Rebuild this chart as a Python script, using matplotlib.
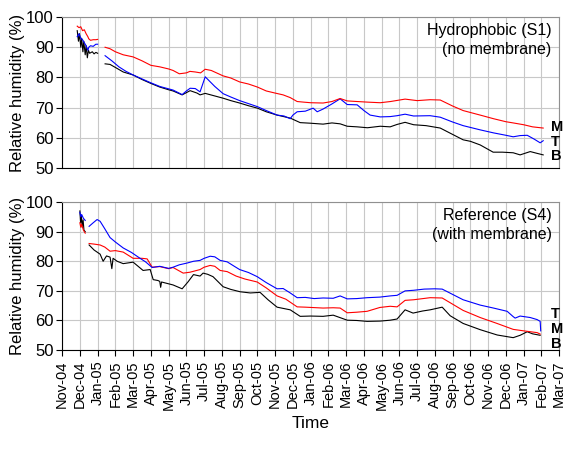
import numpy as np
import matplotlib
matplotlib.use('Agg')
import matplotlib.pyplot as plt

plt.rcParams['font.family'] = ['Liberation Sans', 'DejaVu Sans']

# months counted from Nov-04 (0) to Mar-07 (28)
month_labels = ['Nov-04', 'Dec-04', 'Jan-05', 'Feb-05', 'Mar-05', 'Apr-05', 'May-05',
                'Jun-05', 'Jul-05', 'Aug-05', 'Sep-05', 'Oct-05', 'Nov-05', 'Dec-05',
                'Jan-06', 'Feb-06', 'Mar-06', 'Apr-06', 'May-06', 'Jun-06', 'Jul-06',
                'Aug-06', 'Sep-06', 'Oct-06', 'Nov-06', 'Dec-06', 'Jan-07', 'Feb-07',
                'Mar-07']

# ---- S1 hydrophobic (no membrane) ----
s1_m_t = [0.85, 0.95, 1.05, 1.15, 1.25, 1.35, 1.45, 1.5, 1.6, 1.75, 1.9, 2.0, None,
          2.42, 2.7, 3.0, 3.44, 4.0, 4.5, 5.0, 5.5, 6.0, 6.25, 6.6, 7.0, 7.2, 7.5, 7.8,
          8.06, 8.4, 9.07, 9.5, 10.0, 10.5, 11.0, 11.5, 12.0, 12.45, 12.85, 13.24, 13.6,
          14.0, 14.7, 15.2, 15.66, 16.06, 16.62, 17.2, 17.92, 18.5, 19.32, 20.0, 20.73,
          21.3, 22.0, 22.59, 23.55, 24.3, 25.0, 25.41, 26.0, 26.5, 27.1]
s1_m = [97, 96.5, 96.8, 95.5, 95.8, 94.5, 93.5, 92.8, 92.3, 92.5, 92.5, 92.6, None,
        90, 89.5, 88.5, 87.5, 86.8, 85.5, 84, 83.5, 82.8, 82.3, 81.2, 81.5, 82, 81.8, 81.5,
        82.7, 82.3, 80.5, 79.8, 78.5, 77.8, 76.8, 75.5, 74.8, 74.2, 73.3, 72, 71.8,
        71.6, 71.5, 72, 73, 72.2, 72, 71.8, 71.6, 72, 72.8, 72.3, 72.6,
        72.5, 70.5, 69, 67.5, 66.3, 65.3, 64.9, 64.3, 63.6, 63.2]

s1_t_t = [0.85, 0.95, 1.05, 1.15, 1.25, 1.35, 1.45, 1.5, 1.6, 1.75, 1.9, 2.0, None,
          2.42, 2.8, 3.2, 3.6, 4.0, 4.5, 5.0, 5.5, 6.0, 6.25, 6.76, 7.0, 7.21, 7.5, 7.77,
          8.06, 8.6, 9.07, 9.5, 10.0, 10.5, 11.0, 11.5, 12.11, 12.5, 12.85, 13.0, 13.24,
          13.7, 14.14, 14.37, 14.7, 15.2, 15.66, 16.06, 16.62, 17.0, 17.35, 17.92, 18.48,
          18.87, 19.32, 19.8, 20.73, 21.3, 22.0, 22.59, 23.55, 24.3, 25.0, 25.41, 25.8,
          26.2, 26.6, 26.93, 27.1]
s1_t = [93.5, 94.5, 93, 92.5, 91.5, 90.5, 89, 90, 90.5, 90.3, 91, 91, None,
        87.2, 85.5, 83.5, 82, 80.8, 79.5, 78.2, 77, 76.2, 75.8, 74.3, 75.5, 76.4, 76.3, 75.2,
        80.2, 77, 74.6, 73.5, 72.3, 71.3, 70.3, 69, 67.5, 67.2, 66.3, 67.5, 68.6,
        68.8, 69.8, 68.6, 69.5, 71.2, 72.9, 71, 70.9, 69, 67.5, 66.9, 67,
        67.3, 67.8, 67.2, 67.3, 66.8, 65.2, 64, 62.6, 61.6, 60.8, 60.3, 60.7,
        60.8, 59.5, 58.3, 59]

s1_b_t = [0.85, 0.92, 0.98, 1.05, 1.1, 1.17, 1.22, 1.3, 1.35, 1.42, 1.48, 1.55, 1.7,
          1.8, 1.9, 2.0, None,
          2.42, 2.7, 3.0, 3.44, 4.0, 4.5, 5.0, 5.5, 6.0, 6.25, 6.76, 7.21, 7.6, 7.77,
          8.06, 9.07, 9.5, 10.0, 10.5, 11.0, 11.5, 12.11, 12.85, 13.41, 14.0, 14.7, 15.2,
          15.66, 16.06, 16.62, 17.2, 17.92, 18.48, 18.87, 19.32, 19.8, 20.5, 21.3, 21.86,
          22.59, 23.0, 23.55, 24.28, 24.8, 25.41, 25.8, 26.37, 26.76, 27.1]
s1_b = [95.5, 92, 94.5, 90, 93, 88.5, 92, 87.5, 90.5, 86.5, 89, 88, 88.5,
        87.8, 88.3, 88, None,
        84.5, 84.3, 83.3, 81.8, 80.8, 79.3, 78, 76.8, 75.9, 75.5, 74.2, 75.6, 74.8, 74.2,
        74.7, 73.1, 72.3, 71.5, 70.6, 69.8, 68.6, 67.5, 66.5, 65, 64.8, 64.5, 64.9,
        64.6, 63.8, 63.6, 63.3, 63.8, 63.6, 64.4, 65.1, 64.3, 64, 63.2, 61.5,
        59.3, 58.8, 57.6, 55.2, 55.2, 55.0, 54.3, 55.4, 54.8, 54.3]

# ---- S4 reference (with membrane) ----
s4_t_t = [1.0, 1.05, 1.1, 1.2, 1.3, None,
          1.52, 1.75, 1.97, 2.14, 2.4, 2.7, 3.0, 3.44, 3.9, 4.39, 4.7, 5.07, 5.5, 6.0,
          6.25, 6.6, 7.04, 7.4, 7.77, 8.0, 8.34, 8.6, 8.9, 9.3, 9.7, 10.0, 10.5, 10.99,
          11.5, 12.11, 12.45, 12.85, 13.24, 13.7, 14.2, 14.7, 15.27, 15.66, 16.06, 16.6,
          17.18, 17.9, 18.48, 18.87, 19.32, 19.8, 20.4, 21.0, 21.41, 22.0, 22.59, 23.55,
          24.3, 25.07, 25.41, 25.52, 25.8, 26.37, 26.76, 26.93, 26.96]
s4_t = [96.5, 95, 95.8, 94.5, 93.8, None,
        91.8, 93, 94.1, 93.5, 91, 88, 86.5, 84.5, 83, 81, 79.8, 77.9, 78.3, 77.6,
        78, 78.8, 79.4, 80, 80.3, 81, 81.7, 81.5, 80.3, 79.8, 78.3, 77.2, 76.2, 74.8,
        72.8, 70.7, 70.8, 69.3, 67.7, 67.8, 67.4, 67.6, 67.5, 68.3, 67.3, 67.4,
        67.7, 67.9, 68.3, 68.5, 70, 70.2, 70.6, 70.7, 70.6, 68.8, 67, 65.2,
        64.2, 63.1, 61.3, 60.8, 61.5, 61, 60.3, 59.7, 56.5]

s4_m_t = [1.0, 1.05, 1.1, 1.2, 1.3, None,
          1.52, 1.8, 2.14, 2.4, 2.7, 3.0, 3.44, 4.0, 4.5, 4.79, 5.07, 5.5, 6.0, 6.25,
          6.82, 7.2, 7.77, 8.0, 8.34, 8.6, 8.9, 9.3, 9.8, 10.3, 10.99, 11.5, 12.11, 12.6,
          13.24, 13.7, 14.7, 15.27, 15.66, 16.06, 16.6, 17.18, 17.9, 18.48, 18.87, 19.32,
          19.8, 20.73, 21.41, 22.0, 22.59, 23.55, 24.5, 25.41, 26.0, 26.76, 26.93]
s4_m = [93, 91.5, 92.5, 90.5, 89.5, None,
        86, 85.8, 85.5, 84.8, 83.4, 83.6, 83.1, 81, 81, 80.8, 78, 78.2, 77.5, 77.9,
        76, 76.3, 77.2, 78, 78.6, 78.3, 76.9, 76.5, 75, 74, 73, 71, 68.3, 67.2,
        64.6, 64.5, 64.2, 64.3, 64.2, 62.6, 62.8, 63.1, 64.4, 64.8, 64.6, 66.8,
        67, 67.7, 67.6, 65.5, 63.4, 61, 59, 57, 56.5, 55.9, 55.4]

s4_b_t = [1.0, 1.04, 1.08, 1.13, 1.18, 1.23, 1.3, None,
          1.52, 1.8, 2.14, 2.31, 2.5, 2.7, 2.8, 2.87, 3.1, 3.44, 4.0, 4.3, 4.56, 4.96,
          5.13, 5.4, 5.5, 5.55, 5.6, 6.25, 6.76, 7.1, 7.4, 7.77, 7.94, 8.2, 8.5, 9.07,
          9.5, 10.03, 10.6, 11.15, 11.6, 12.11, 12.85, 13.41, 14.0, 14.7, 15.27, 16.06,
          16.6, 17.18, 17.92, 18.48, 18.87, 19.32, 19.77, 20.3, 20.73, 21.41, 21.86,
          22.59, 23.55, 24.51, 25.41, 25.8, 26.2, 26.5, 26.93]
s4_b = [97, 93, 95.5, 91.5, 94, 90.5, 90, None,
        85.5, 83.8, 82.4, 80, 81.8, 81.4, 77.5, 81, 80, 79.2, 79.7, 78.2, 76.9, 77.2,
        73.8, 73.5, 73.2, 71.2, 73, 72, 70.7, 73.1, 75.5, 75, 76, 75.6, 74.8, 71.4,
        70.5, 69.7, 69.3, 69.5, 67, 64.5, 63.6, 61.4, 61.5, 61.4, 61.8, 60.1,
        60, 59.7, 59.8, 60.1, 60.5, 63.6, 62.5, 63.2, 63.6, 64.5, 61.6,
        59, 56.9, 55.1, 54.2, 55, 56.2, 55.5, 55]


def arr(v):
    return np.array([np.nan if x is None else x for x in v], dtype=float)


fig = plt.figure(figsize=(5.7, 4.5), dpi=100)
ax1 = fig.add_axes([0.109, 0.627, 0.872, 0.335])
ax2 = fig.add_axes([0.109, 0.222, 0.872, 0.329])

panels = [
    (ax1, [(s1_b_t, s1_b, 'black'), (s1_t_t, s1_t, '#0000ff'), (s1_m_t, s1_m, '#ff0000')],
     'Hydrophobic (S1)\n(no membrane)', [('M', 63.6), ('T', 58.6), ('B', 54.0)]),
    (ax2, [(s4_b_t, s4_b, 'black'), (s4_m_t, s4_m, '#ff0000'), (s4_t_t, s4_t, '#0000ff')],
     'Reference (S4)\n(with membrane)', [('T', 62.1), ('M', 57.0), ('B', 52.2)]),
]

for ax, series, title, labels in panels:
    for t, v, c in series:
        ax.plot(arr(t), arr(v), color=c, lw=0.8)
    ax.set_xlim(0, 28)
    ax.set_ylim(50, 100)
    ax.set_yticks(range(50, 101, 10))
    ax.set_xticks(range(len(month_labels)))
    ax.grid(True, color='#c8c8c8', lw=0.8)
    ax.set_axisbelow(True)
    for s in ['top', 'right']:
        ax.spines[s].set_color('#909090')
    ax.tick_params(axis='y', labelsize=12, direction='out', length=4, pad=2)
    ax.set_ylabel('Relative humidity (%)', fontsize=12, labelpad=1)
    ax.text(0.985, 0.96, title, transform=ax.transAxes, ha='right', va='top',
            fontsize=11.5, linespacing=1.35)
    for lab, yv in labels:
        ax.text(27.55, yv, lab, fontsize=10.5, fontweight='bold', va='center', ha='left')

ax1.tick_params(axis='x', length=0, labelbottom=False)
ax2.set_xticklabels(month_labels, rotation=90, fontsize=10.5)
ax2.tick_params(axis='x', direction='out', length=4)
ax2.set_xlabel('Time', fontsize=12.5, labelpad=5)

fig.savefig('out.png', dpi=100)
